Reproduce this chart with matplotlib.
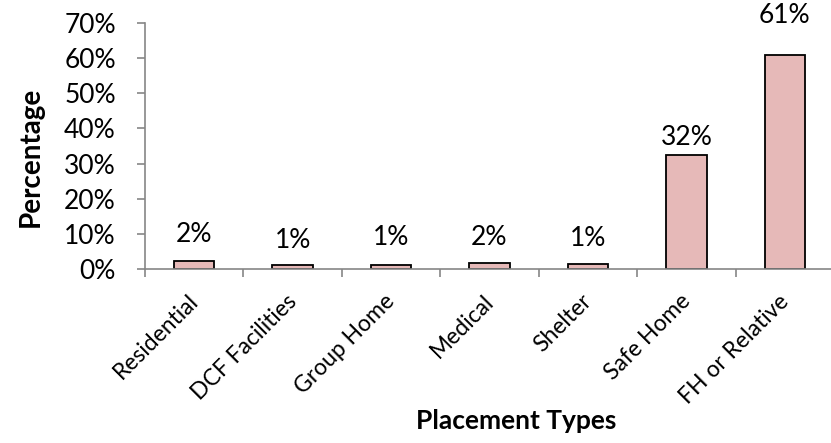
import matplotlib
matplotlib.use("Agg")
import matplotlib.pyplot as plt
import matplotlib.transforms as mtransforms
import numpy as np

# Placement types and their share of placements (%)
categories = ["Residential", "DCF Facilities", "Group Home", "Medical",
              "Shelter", "Safe Home", "FH or Relative"]
percentages = [2.3, 1.1, 1.1, 1.7, 1.4, 32.4, 60.8]
y_ticks = [0, 10, 20, 30, 40, 50, 60, 70]

# vertical gap (pixels) between each bar top and its value label
label_gaps = [14, 12, 15, 13, 13, 5, 27]

plt.rcParams["font.family"] = ["Lato", "DejaVu Sans"]

W, H = 831, 443
fig = plt.figure(figsize=(W / 100, H / 100), dpi=100)
left, right, bottom, top = 145, 834, 269, 23
ax = fig.add_axes([left / W, 1 - bottom / H, (right - left) / W, (bottom - top) / H])

x = np.arange(len(categories))
ax.bar(x, percentages, width=0.41, color="#E6B9B8", edgecolor="black",
       linewidth=1.3, zorder=2)

for xi, v, g in zip(x, percentages, label_gaps):
    ax.annotate(f"{v:.0f}%", (xi, v), xytext=(0, g * 0.72), textcoords="offset points",
                ha="center", va="bottom", fontsize=19, color="black")

ax.set_xlim(-0.5, len(categories) - 0.5)
ax.set_ylim(0, 70)
ax.set_yticks(y_ticks)
ax.set_yticklabels([f"{t}%" for t in y_ticks], fontsize=19)

ax.set_xticks(x)
ax.set_xticklabels(categories, rotation=45, ha="right", rotation_mode="anchor",
                   fontsize=16.5)
ax.tick_params(axis="x", which="major", length=0, pad=14)
shift = mtransforms.ScaledTranslation(-0.07, -0.02, fig.dpi_scale_trans)
for lbl in ax.get_xticklabels():
    lbl.set_transform(lbl.get_transform() + shift)
ax.set_xticks(np.arange(-0.5, len(categories)), minor=True)
ax.tick_params(axis="x", which="minor", length=5.5, width=1.2, color="#868686",
               direction="out")
ax.tick_params(axis="y", length=6, width=1.2, color="#868686", direction="out", pad=15)

for s in ("top", "right"):
    ax.spines[s].set_visible(False)
for s in ("left", "bottom"):
    ax.spines[s].set_color("#868686")
    ax.spines[s].set_linewidth(1.2)
ax.spines["bottom"].set_zorder(3)

fig.text(516 / W, 1 - 421 / H, "Placement Types", ha="center", va="center",
         fontsize=19, fontweight="bold")
fig.text(31 / W, 1 - 157 / H, "Percentage", ha="center", va="center",
         rotation=90, fontsize=20, fontweight="bold")

fig.savefig("out.png", dpi=100)
